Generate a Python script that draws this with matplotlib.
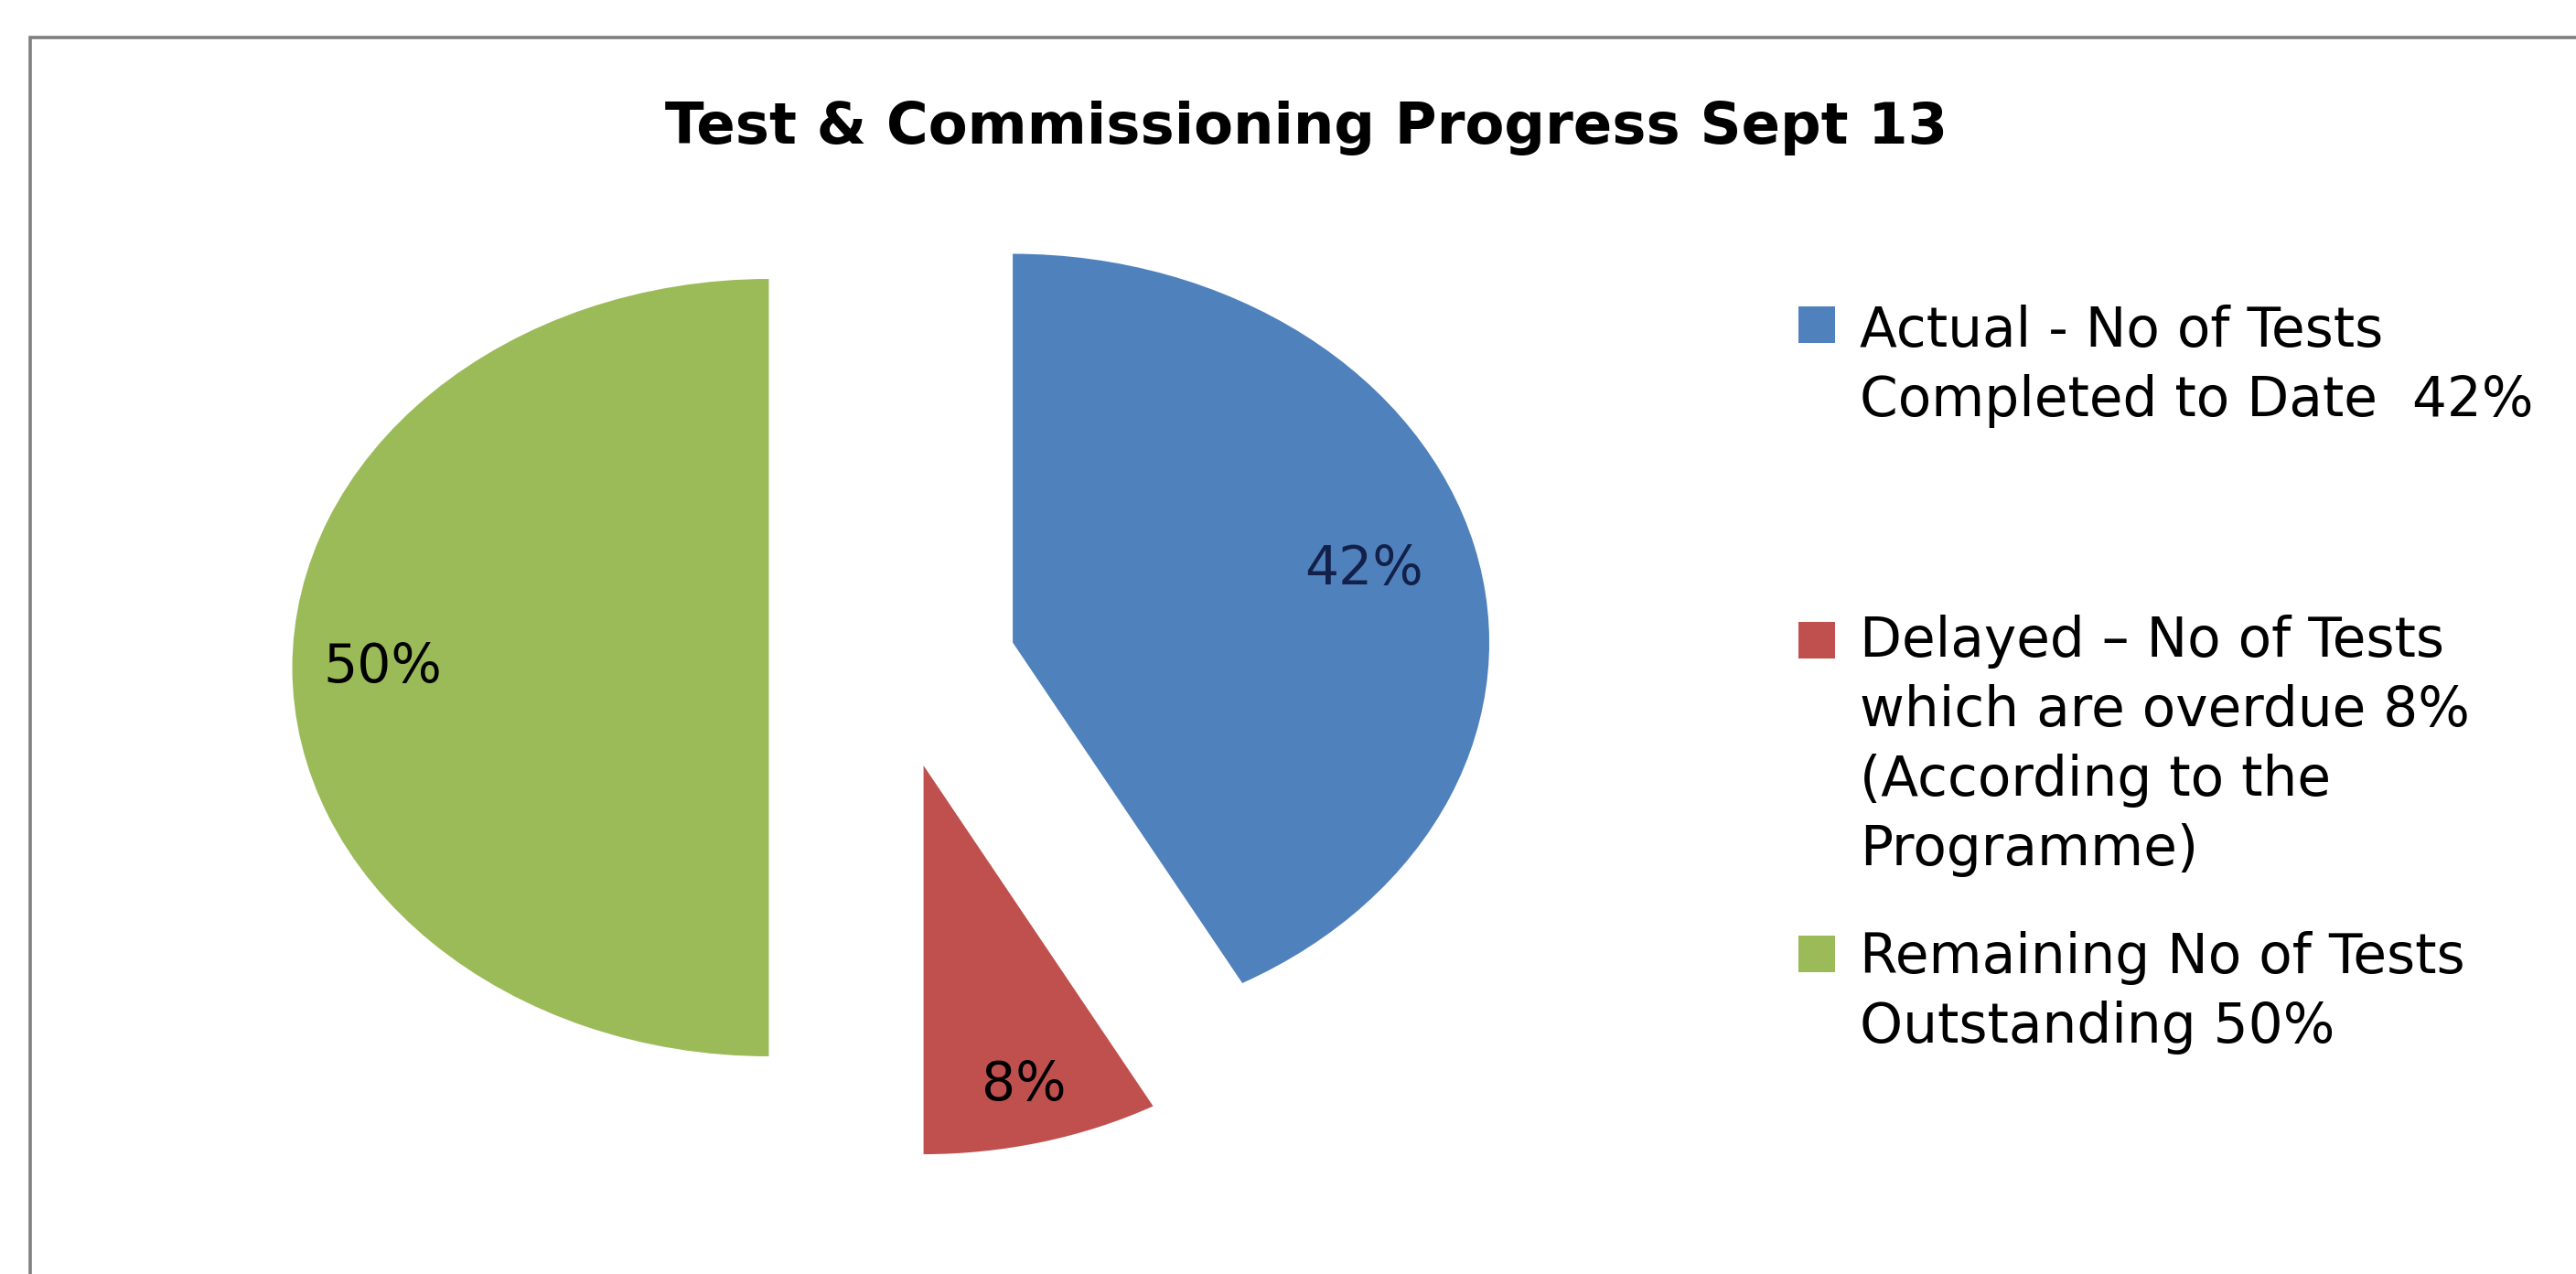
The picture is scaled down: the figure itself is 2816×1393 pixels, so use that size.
import matplotlib
matplotlib.use("Agg")
import matplotlib.pyplot as plt
from matplotlib.patches import Rectangle
import numpy as np

# chart data
title = "Test & Commissioning Progress Sept 13"
values = [42, 8, 50]
colors = ["#4F81BD", "#C0504D", "#9BBB59"]
legend_labels = [
    ["Actual - No of Tests", "Completed to Date  42%"],
    ["Delayed \u2013 No of Tests", "which are overdue 8%", "(According to the", "Programme)"],
    ["Remaining No of Tests", "Outstanding 50%"],
]

W, H = 2816, 1393
fig = plt.figure(figsize=(W / 100, H / 100), dpi=100)
fig.patch.set_facecolor("white")

def fx(px):
    return px / W

def fy(py):
    return 1 - py / H

# outer chart frame (only top and left edge are visible in the picture)
fig.add_artist(Rectangle((fx(33), -0.1), 1.2, fy(41) + 0.1, transform=fig.transFigure,
                         fill=False, edgecolor="#7f7f7f", linewidth=2.6))

fig.text(fx(1428), fy(157), title, ha="center", va="baseline",
         fontsize=45, fontweight="bold", family="DejaVu Sans", color="black")

# pie, stretched into an ellipse like the original
ax = fig.add_axes([fx(142.4), 25.5 / H, 1667 / W, 1275 / H])
wedges, texts, autotexts = ax.pie(values, colors=colors, startangle=90, counterclock=False,
                                  explode=[0.26] * 3, autopct=lambda p: f"{p:.0f}%",
                                  wedgeprops=dict(linewidth=0),
                                  textprops=dict(fontsize=42, family="DejaVu Sans"))
ax.set_aspect("auto")
ax.set_xlim(-1.6, 1.6)
ax.set_ylim(-1.5, 1.5)

pct_dist = [0.76, 0.85, 0.81]  # excel "best fit" label spots
pct_colors = ["#12204a", "black", "black"]
for w, t, d, c in zip(wedges, autotexts, pct_dist, pct_colors):
    ang = np.deg2rad((w.theta1 + w.theta2) / 2)
    cx, cy = w.center
    t.set_position((cx + d * np.cos(ang), cy + d * np.sin(ang)))
    t.set_color(c)
    t.set_ha("center")
    t.set_va("center")

# legend drawn by hand to keep excel's uneven spacing
marker_y = [355, 700, 1043]
first_base = [379, 718, 1064]
line_gap = 76
for lines, col, my, by in zip(legend_labels, colors, marker_y, first_base):
    fig.add_artist(Rectangle((fx(1966), fy(my + 20)), 40 / W, 40 / H,
                             transform=fig.transFigure, facecolor=col, edgecolor="none"))
    for i, line in enumerate(lines):
        fig.text(fx(2033), fy(by + i * line_gap), line, ha="left", va="baseline",
                 fontsize=43, family="DejaVu Sans", color="black")

fig.savefig("out.png", dpi=100, facecolor="white")
